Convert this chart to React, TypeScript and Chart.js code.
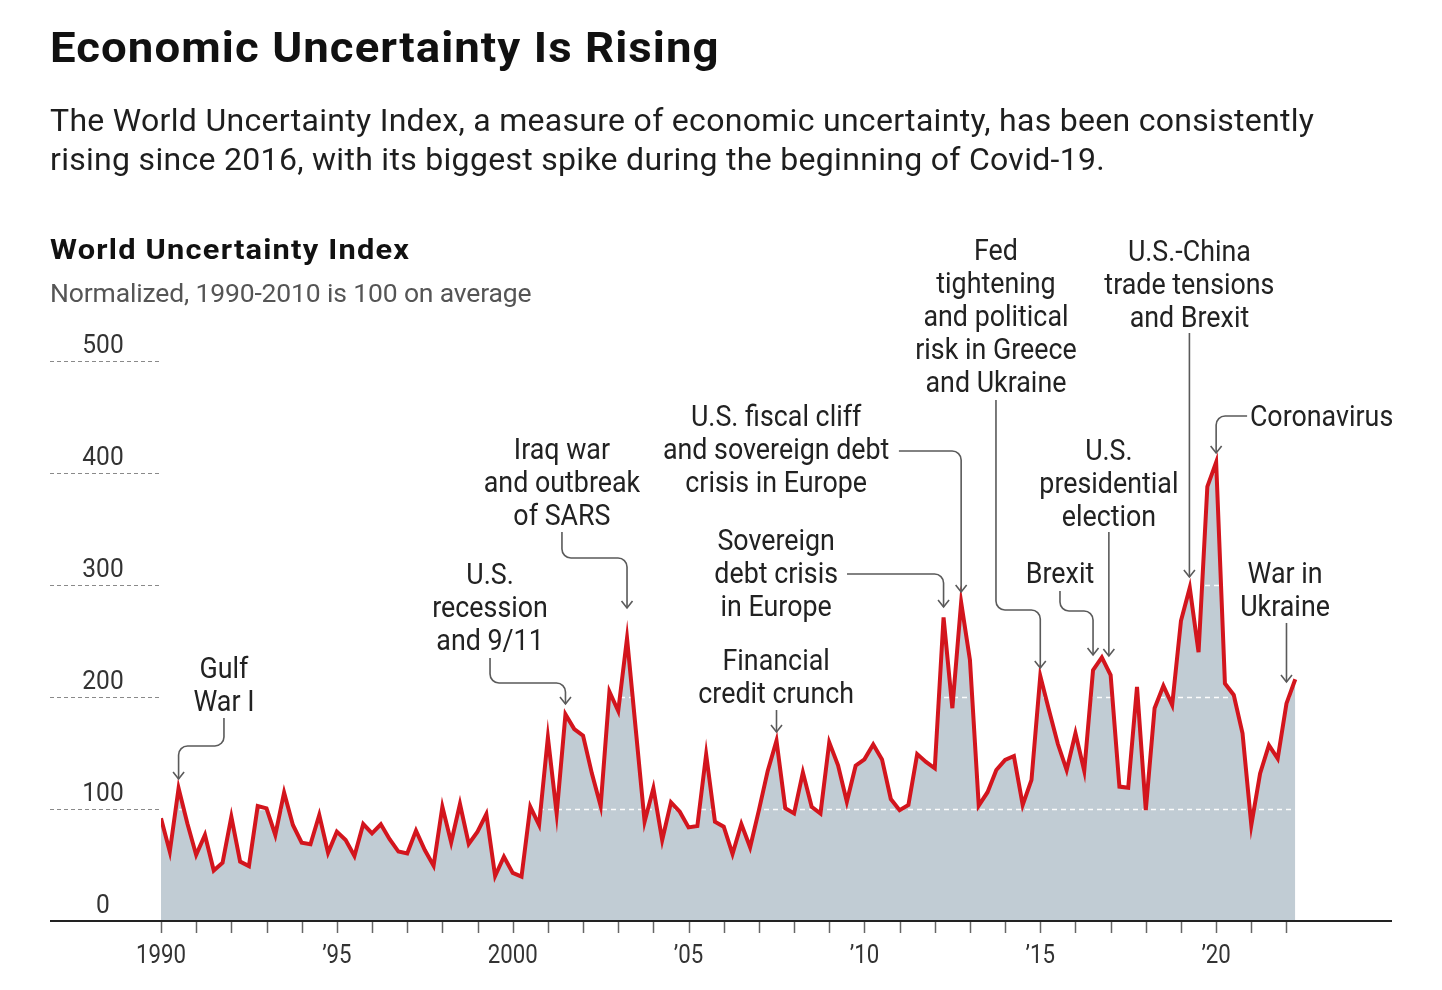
import React, { useEffect, useRef } from "react";
import { Chart, registerables } from "chart.js";

Chart.register(...registerables);

// ---- data ----
const START_YEAR = 1990; // first quarter of the series: 1990 Q1
const WUI_QUARTERLY = [
  // 1990
  91.7, 61.9, 118.5, 87,
  // 1991
  59, 76.8, 45, 52,
  // 1992
  93, 53, 49, 102.7,
  // 1993
  100.6, 76.8, 114.6, 85.7,
  // 1994
  70, 68.5, 94.6, 61,
  // 1995
  79.8, 72.3, 58, 86.6,
  // 1996
  78.3, 86.3, 73, 62,
  // 1997
  60.4, 80.7, 63.4, 49.4,
  // 1998
  102, 70.2, 104.5, 68.8,
  // 1999
  79.8, 95.5, 40.2, 57.4,
  // 2000
  43, 39.6, 102, 85.7,
  // 2001
  164, 96, 184.5, 171.4,
  // 2002
  165.5, 131.8, 102.7, 204.7,
  // 2003
  187.5, 252.4, 170.5, 88.7,
  // 2004
  118.5, 72.3, 106, 97.6,
  // 2005
  83.6, 84.8, 148.8, 88.7,
  // 2006
  84.2, 59.8, 86.6, 65.8,
  // 2007
  99, 134, 161, 100.6,
  // 2008
  96, 132.7, 102, 96,
  // 2009
  159.5, 139, 106.5, 138.7,
  // 2010
  144.3, 157.7, 144.3, 108.9,
  // 2011
  99, 103.6, 149, 142,
  // 2012
  136.3, 271, 190, 284.5,
  // 2013
  233, 103, 115, 134.8,
  // 2014
  143.75, 147.3, 103.6, 126,
  // 2015
  218.75, 188, 158, 134.8,
  // 2016
  167.6, 134, 224, 235.4,
  // 2017
  219.6, 120, 119, 209,
  // 2018
  99, 190, 210, 192.9,
  // 2019
  268, 297.6, 240, 387.8,
  // 2020
  409.5, 212, 201.8, 167.6,
  // 2021
  85.7, 131.8, 157, 145,
  // 2022
  194.3, 215.8,
];

const X_TICK_YEARS = [
  1990, 1991, 1992, 1993, 1994, 1995, 1996, 1997, 1998, 1999, 2000, 2001,
  2002, 2003, 2004, 2005, 2006, 2007, 2008, 2009, 2010, 2011, 2012, 2013,
  2014, 2015, 2016, 2017, 2018, 2019, 2020, 2021, 2022,
];
const X_LABEL_YEARS = [1990, 1995, 2000, 2005, 2010, 2015, 2020];
const X_LABELS = ["1990", "\u201995", "2000", "\u201905", "\u201910", "\u201915", "\u201920"];

const Y_TICKS = [0, 100, 200, 300, 400, 500];
const Y_LABELS = ["0", "100", "200", "300", "400", "500"];

const X_MIN = 1990;
const X_MAX = 2025;
const Y_MIN = 0;
const Y_MAX = 500;

// annotation labels (x in years, y in index units; path = leader line ending in an arrow)
const ANNOTATIONS = [
  { lines: ["Gulf", "War I"], x: 1991.79, y: 225.9, align: "center",
    path: [[1991.79, 181.3], [1991.79, 156.3], [1990.5, 156.3], [1990.5, 126.8]] },
  { lines: ["U.S.", "recession", "and 9/11"], x: 1999.355, y: 309.8, align: "center",
    path: [[1999.355, 234.8], [1999.355, 212.5], [2001.5, 212.5], [2001.5, 193.75]] },
  { lines: ["Iraq war", "and outbreak", "of SARS"], x: 2001.4, y: 421.4, align: "center",
    path: [[2001.4, 347.3], [2001.4, 324.1], [2003.25, 324.1], [2003.25, 279.5]] },
  { lines: ["U.S. fiscal cliff", "and sovereign debt", "crisis in Europe"], x: 2007.49, y: 450.9, align: "center",
    path: [[2010.98, 419.6], [2012.75, 419.6], [2012.75, 293.75]] },
  { lines: ["Sovereign", "debt crisis", "in Europe"], x: 2007.49, y: 340.2, align: "center",
    path: [[2009.505, 309.8], [2012.25, 309.8], [2012.25, 280.4]] },
  { lines: ["Financial", "credit crunch"], x: 2007.49, y: 233.0, align: "center",
    path: [[2007.5, 188.4], [2007.5, 168.75]] },
  { lines: ["Fed", "tightening", "and political", "risk in Greece", "and Ukraine"], x: 2013.74, y: 599.1, align: "center",
    path: [[2013.74, 465.2], [2013.74, 277.7], [2015, 277.7], [2015, 225.9]] },
  { lines: ["Brexit"], x: 2015.56, y: 310.7, align: "center",
    path: [[2015.56, 294.6], [2015.56, 276.8], [2016.5, 276.8], [2016.5, 237.5]] },
  { lines: ["U.S.", "presidential", "election"], x: 2016.95, y: 420.5, align: "center",
    path: [[2016.95, 347.3], [2016.95, 236.6]] },
  { lines: ["U.S.-China", "trade tensions", "and Brexit"], x: 2019.24, y: 598.2, align: "center",
    path: [[2019.24, 525], [2019.24, 307.1]] },
  { lines: ["Coronavirus"], x: 2020.96, y: 450.9, align: "left",
    path: [[2020.88, 450.9], [2020, 450.9], [2020, 417.9]] },
  { lines: ["War in", "Ukraine"], x: 2021.96, y: 310.7, align: "center",
    path: [[2022, 266.1], [2022, 213.4]] },
];

// ---- styles ----
const FILL_COLOR = "#c1ccd4";
const LINE_COLOR = "#d3151d";
const TEXT_COLOR = "#222222";
const AXIS_TEXT = "#333333";
const LEADER_COLOR = "#5a5a5a";

function condText(ctx: CanvasRenderingContext2D, text: string, x: number, y: number, align: CanvasTextAlign, sx: number) {
  ctx.save();
  ctx.translate(x, y);
  ctx.scale(sx, 1);
  ctx.textAlign = align;
  ctx.textBaseline = "alphabetic";
  ctx.fillText(text, 0, 0);
  ctx.restore();
}

const decorPlugin = {
  id: "decor",
  afterDatasetDraw(chart: any, args: any) {
    if (args.index !== 0) return;
    const { ctx, chartArea, scales } = chart;
    const ys = scales.y;
    ctx.save();
    ctx.strokeStyle = "rgba(255,255,255,0.95)";
    ctx.lineWidth = 1.3;
    ctx.setLineDash([5, 4]);
    Y_TICKS.forEach((v) => {
      if (v === 0) return;
      const py = Math.round(ys.getPixelForValue(v)) + 0.5;
      ctx.beginPath();
      ctx.moveTo(chartArea.left, py);
      ctx.lineTo(chartArea.right, py);
      ctx.stroke();
    });
    ctx.restore();
  },
  afterDraw(chart: any) {
    const { ctx, chartArea, scales } = chart;
    const xs = scales.x;
    const ys = scales.y;
    const left = chartArea.left;
    const axisStart = left - 111;
    const y0 = ys.getPixelForValue(0);

    ctx.save();
    // left dashed gridlines + y labels
    ctx.strokeStyle = "#8a8a8a";
    ctx.lineWidth = 1;
    ctx.setLineDash([4, 3]);
    Y_TICKS.forEach((v) => {
      if (v === 0) return;
      const py = Math.round(ys.getPixelForValue(v)) + 0.5;
      ctx.beginPath();
      ctx.moveTo(axisStart, py);
      ctx.lineTo(left, py);
      ctx.stroke();
    });
    ctx.setLineDash([]);
    ctx.fillStyle = AXIS_TEXT;
    ctx.font = "400 25px Roboto";
    Y_TICKS.forEach((v, i) => {
      const py = ys.getPixelForValue(v);
      condText(ctx, Y_LABELS[i], left - 58, py - 8, "center", 0.98);
    });

    // x axis line
    ctx.strokeStyle = "#222";
    ctx.lineWidth = 2;
    ctx.beginPath();
    ctx.moveTo(axisStart, y0);
    ctx.lineTo(chartArea.right, y0);
    ctx.stroke();

    // ticks
    ctx.strokeStyle = "#666";
    ctx.lineWidth = 1.5;
    X_TICK_YEARS.forEach((yr) => {
      const px = Math.round(xs.getPixelForValue(yr)) + 0.5;
      ctx.beginPath();
      ctx.moveTo(px, y0 + 1);
      ctx.lineTo(px, y0 + 12);
      ctx.stroke();
    });
    ctx.fillStyle = AXIS_TEXT;
    X_LABEL_YEARS.forEach((yr, i) => {
      condText(ctx, X_LABELS[i], xs.getPixelForValue(yr), y0 + 42, "center", 0.89);
    });

    // annotations
    ctx.font = "400 29px Roboto";
    ctx.fillStyle = TEXT_COLOR;
    ANNOTATIONS.forEach((a) => {
      const ax = xs.getPixelForValue(a.x);
      const ay = ys.getPixelForValue(a.y);
      a.lines.forEach((ln, i) => {
        condText(ctx, ln, ax, ay + 10 + i * 33, a.align as CanvasTextAlign, 0.925);
      });
      const pts = a.path.map(([px, py]) => [xs.getPixelForValue(px), ys.getPixelForValue(py)]);
      ctx.strokeStyle = LEADER_COLOR;
      ctx.lineWidth = 1.6;
      ctx.beginPath();
      ctx.moveTo(pts[0][0], pts[0][1]);
      for (let i = 1; i < pts.length - 1; i++) {
        const prev = pts[i - 1];
        const cur = pts[i];
        const next = pts[i + 1];
        const d1 = Math.hypot(cur[0] - prev[0], cur[1] - prev[1]);
        const d2 = Math.hypot(next[0] - cur[0], next[1] - cur[1]);
        const r = Math.min(9, d1 / 2, d2 / 2);
        ctx.arcTo(cur[0], cur[1], next[0], next[1], r);
      }
      const tip = pts[pts.length - 1];
      ctx.lineTo(tip[0], tip[1]);
      ctx.stroke();
      // arrow head (pointing down)
      ctx.beginPath();
      ctx.moveTo(tip[0] - 5.5, tip[1] - 7);
      ctx.lineTo(tip[0], tip[1]);
      ctx.lineTo(tip[0] + 5.5, tip[1] - 7);
      ctx.stroke();
    });
    ctx.restore();
  },
};

export default function App() {
  const canvasRef = useRef<HTMLCanvasElement | null>(null);

  useEffect(() => {
    if (!canvasRef.current) return;
    const points = WUI_QUARTERLY.map((v, i) => ({ x: START_YEAR + i / 4, y: v }));
    const chart = new Chart(canvasRef.current, {
      type: "line",
      data: {
        datasets: [
          {
            label: "fill",
            data: points,
            borderWidth: 0,
            backgroundColor: FILL_COLOR,
            fill: "origin",
            pointRadius: 0,
            tension: 0,
            order: 2,
          },
          {
            label: "World Uncertainty Index",
            data: points,
            borderColor: LINE_COLOR,
            borderWidth: 4,
            borderJoinStyle: "miter",
            fill: false,
            pointRadius: 0,
            tension: 0,
            order: 1,
          },
        ],
      },
      options: {
        animation: false,
        responsive: true,
        maintainAspectRatio: false,
        layout: { padding: { left: 153, right: 42, top: 353, bottom: 61 } },
        scales: {
          x: { type: "linear", min: X_MIN, max: X_MAX, display: false },
          y: { min: Y_MIN, max: Y_MAX, display: false },
        },
        plugins: { legend: { display: false }, tooltip: { enabled: false } },
        events: [],
      },
      plugins: [decorPlugin],
    } as any);
    return () => chart.destroy();
  }, []);

  const base: React.CSSProperties = {
    position: "absolute",
    left: 42,
    margin: 0,
    whiteSpace: "nowrap",
    fontFamily: "Roboto, 'Liberation Sans', sans-serif",
    zIndex: 1,
  };

  return (
    <div style={{ position: "relative", width: 1426, height: 974 }}>
      <div style={{ ...base, top: 17.5, fontSize: 43, lineHeight: "43px", fontWeight: 700, color: "#111", letterSpacing: "1px", transform: "scaleX(1.06)", transformOrigin: "left top" }}>
        Economic Uncertainty Is Rising
      </div>
      <div style={{ ...base, top: 92.5, fontSize: 32, lineHeight: "39px", fontWeight: 400, color: "#1e1e1e", letterSpacing: "0.3px" }}>
        The World Uncertainty Index, a measure of economic uncertainty, has been consistently
        <br />
        rising since 2016, with its biggest spike during the beginning of Covid-19.
      </div>
      <div style={{ ...base, top: 227.7, fontSize: 28, lineHeight: "28px", fontWeight: 700, color: "#111", letterSpacing: "1.1px", transform: "scaleX(1.1)", transformOrigin: "left top" }}>
        World Uncertainty Index
      </div>
      <div style={{ ...base, top: 272.4, fontSize: 26.5, lineHeight: "26.5px", fontWeight: 400, color: "#555", letterSpacing: "-0.15px" }}>
        Normalized, 1990-2010 is 100 on average
      </div>
      <div style={{ position: "absolute", left: 0, top: 0, width: 1426, height: 974 }}>
        <canvas ref={canvasRef} />
      </div>
    </div>
  );
}
